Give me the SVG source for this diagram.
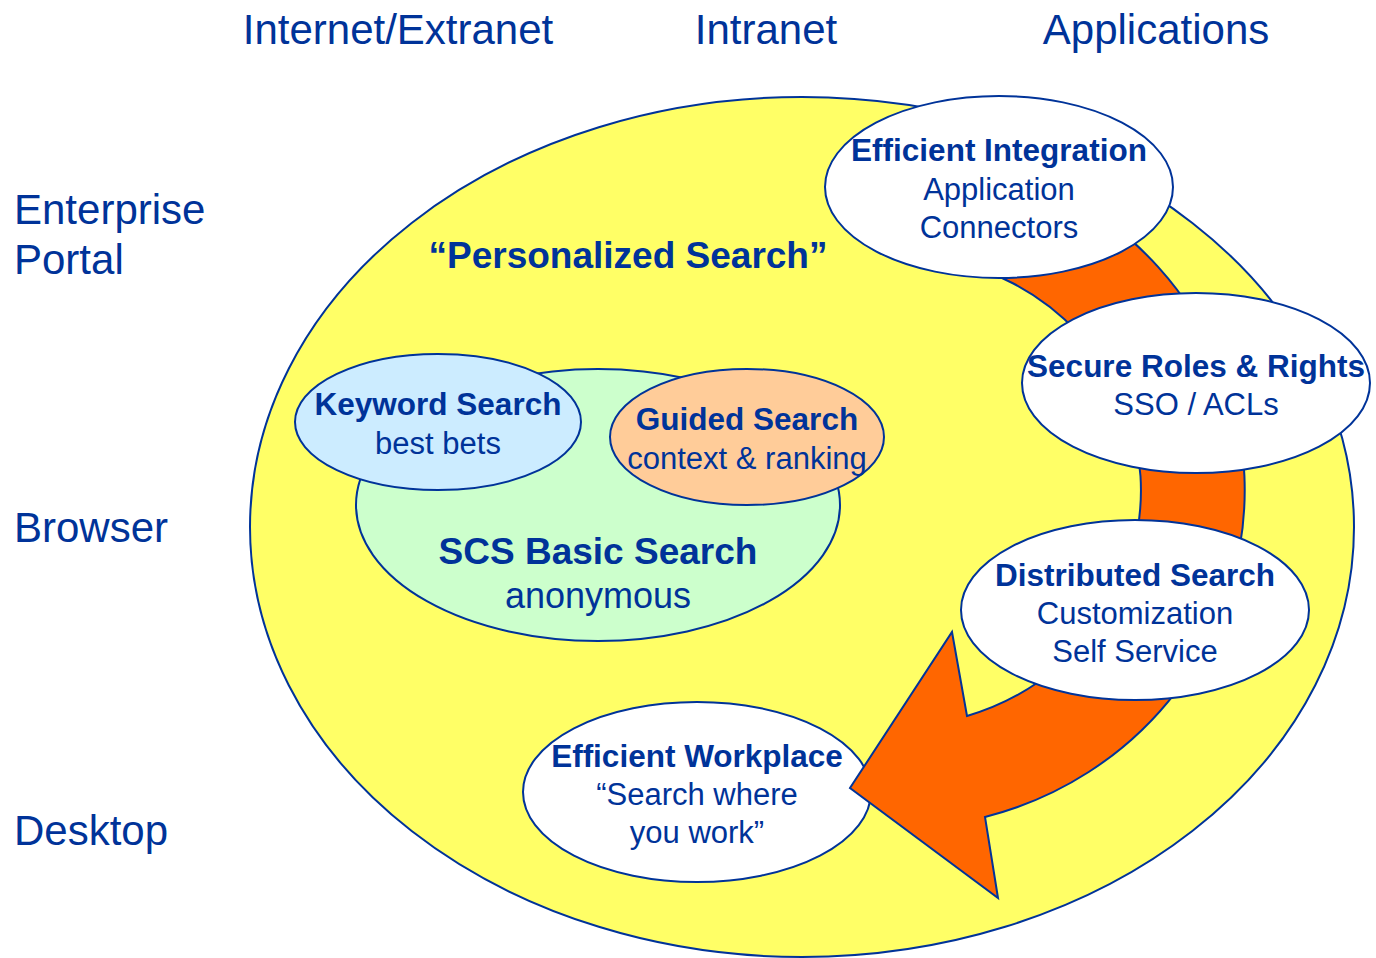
<svg xmlns="http://www.w3.org/2000/svg" width="1376" height="958" viewBox="0 0 1376 958">
<style>
.t{font-family:"Liberation Sans",Arial,Helvetica,sans-serif;fill:#003399;}
.hdr{font-size:42px;}
.b{font-weight:bold;font-size:31.5px;text-anchor:middle;}
.r{font-size:31px;text-anchor:middle;}
.node{stroke:#003399;stroke-width:2;}
</style>
<rect width="1376" height="958" fill="#ffffff"/>
<g id="headers">
<text class="t hdr" x="398" y="44" text-anchor="middle">Internet/Extranet</text>
<text class="t hdr" x="766" y="44" text-anchor="middle">Intranet</text>
<text class="t hdr" x="1156" y="44" text-anchor="middle">Applications</text>
<text class="t hdr" x="14" y="224">Enterprise</text>
<text class="t hdr" x="14" y="274">Portal</text>
<text class="t hdr" x="14" y="542">Browser</text>
<text class="t hdr" x="14" y="845">Desktop</text>
</g>
<g id="personalized">
<ellipse class="node" cx="802" cy="527" rx="552" ry="430" fill="#FFFF66"/>
<text class="t" x="628" y="268" text-anchor="middle" font-weight="bold" font-size="37">“Personalized Search”</text>
</g>
<g id="scs-basic">
<ellipse class="node" cx="598" cy="505" rx="242" ry="136" fill="#CCFFCC"/>
<text class="t" x="598" y="564" text-anchor="middle" font-weight="bold" font-size="37">SCS Basic Search</text>
<text class="t" x="598" y="608" text-anchor="middle" font-size="36">anonymous</text>
</g>
<g id="keyword">
<ellipse class="node" cx="438" cy="422" rx="143" ry="68" fill="#CCECFF"/>
<text class="t b" x="438" y="415">Keyword Search</text>
<text class="t r" x="438" y="454">best bets</text>
</g>
<g id="guided">
<ellipse class="node" cx="747" cy="437" rx="137" ry="68" fill="#FFCC99"/>
<text class="t b" x="747" y="430">Guided Search</text>
<text class="t r" x="747" y="469">context &amp; ranking</text>
</g>
<g id="workplace">
<ellipse class="node" cx="697" cy="792" rx="174" ry="90" fill="#ffffff"/>
<text class="t b" x="697" y="767">Efficient Workplace</text>
<text class="t r" x="697" y="805">“Search where</text>
<text class="t r" x="697" y="843">you work”</text>
</g>
<g id="connectors">
<path d="M 938,258 A 246 236 0 0 1 967,716 L 952,632 L 850,788 L 998,898 L 985,817 A 348 338 0 0 0 956,157 Z" fill="#FF6600" stroke="#003399" stroke-width="2" stroke-linejoin="miter"/>
</g>
<g id="integration">
<ellipse class="node" cx="999" cy="187" rx="174" ry="91" fill="#ffffff"/>
<text class="t b" x="999" y="161">Efficient Integration</text>
<text class="t r" x="999" y="200">Application</text>
<text class="t r" x="999" y="238">Connectors</text>
</g>
<g id="secure">
<ellipse class="node" cx="1196" cy="383" rx="174" ry="90" fill="#ffffff"/>
<text class="t b" x="1196" y="377">Secure Roles &amp; Rights</text>
<text class="t r" x="1196" y="415">SSO / ACLs</text>
</g>
<g id="distributed">
<ellipse class="node" cx="1135" cy="610" rx="174" ry="90" fill="#ffffff"/>
<text class="t b" x="1135" y="586">Distributed Search</text>
<text class="t r" x="1135" y="624">Customization</text>
<text class="t r" x="1135" y="662">Self Service</text>
</g>
</svg>
